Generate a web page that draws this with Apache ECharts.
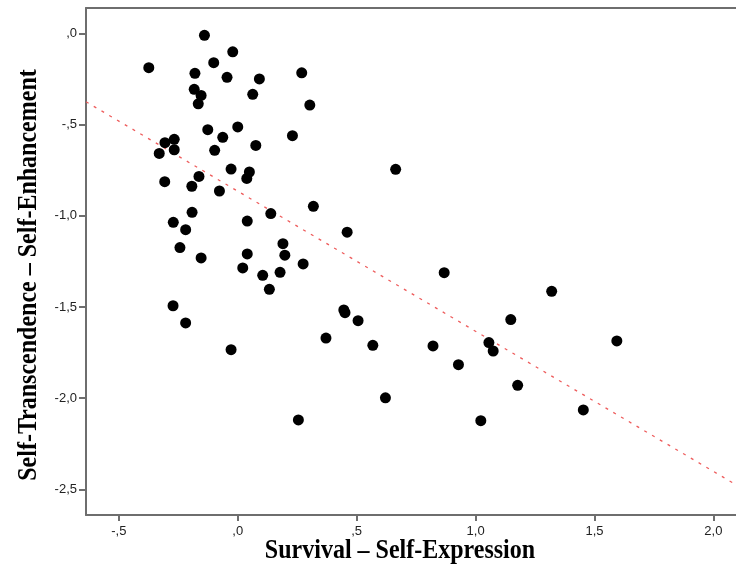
<!DOCTYPE html>
<html>
<head>
<meta charset="utf-8">
<script src="https://cdn.jsdelivr.net/npm/echarts@6/dist/echarts.min.js"></script>
<style>
html,body{margin:0;padding:0;background:#fff;}
#chart{width:736px;height:570px;}
</style>
</head>
<body>
<div id="chart"></div>
<script>
// Survival – Self-Expression (x) values
var survivalX = [
  -0.140, -0.021, -0.374, -0.101, -0.180, -0.045, 0.091, 0.269, -0.183, -0.154,
  0.063, -0.166, 0.303, -0.126, 0.000, -0.063, 0.230, -0.267, -0.306, -0.267,
  -0.330, -0.097, 0.076, 0.664, -0.028, 0.049, 0.038, -0.163, -0.307, -0.193,
  -0.077, -0.192, 0.139, 0.318, -0.271, -0.219, 0.040, 0.460, -0.243, 0.190,
  0.040, 0.198, -0.154, 0.021, 0.105, 0.178, 0.275, 0.133, -0.272, -0.219,
  -0.028, 0.446, 0.451, 0.506, 0.371, 0.568, 0.621, 0.255, 0.868, 1.320,
  1.148, 0.821, 1.056, 1.074, 1.594, 0.928, 1.177, 1.453, 1.022
];
// Self-Transcendence – Self-Enhancement (y) values
var transcendY = [
  -0.011, -0.101, -0.188, -0.161, -0.219, -0.241, -0.250, -0.216, -0.307, -0.340,
  -0.334, -0.386, -0.393, -0.528, -0.513, -0.570, -0.561, -0.581, -0.599, -0.638,
  -0.658, -0.641, -0.614, -0.745, -0.744, -0.760, -0.795, -0.784, -0.813, -0.838,
  -0.864, -0.981, -0.988, -0.948, -1.036, -1.076, -1.029, -1.090, -1.174, -1.153,
  -1.209, -1.216, -1.231, -1.286, -1.326, -1.310, -1.264, -1.403, -1.493, -1.587,
  -1.734, -1.516, -1.531, -1.575, -1.670, -1.710, -1.998, -2.119, -1.312, -1.414,
  -1.569, -1.713, -1.695, -1.741, -1.686, -1.816, -1.929, -2.064, -2.123
];
// Fit line endpoints
var fitX = [-0.638, 2.095];
var fitY = [-0.375, -2.474];
// Tick values and labels
var xTickValues = [-0.5, 0, 0.5, 1, 1.5, 2];
var xTickLabels = ['-,5', ',0', ',5', '1,0', '1,5', '2,0'];
var yTickValues = [0, -0.5, -1, -1.5, -2, -2.5];
var yTickLabels = [',0', '-,5', '-1,0', '-1,5', '-2,0', '-2,5'];
var xTitle = 'Survival – Self-Expression';
var yTitle = 'Self-Transcendence – Self-Enhancement';

var xMin = -0.638, xMax = 2.095;
var yMin = -2.64, yMax = 0.139;

var points = survivalX.map(function (x, i) { return [x, transcendY[i]]; });
var fitData = fitX.map(function (x, i) { return [x, fitY[i]]; });

function labelFor(values, labels) {
  return function (v) {
    for (var i = 0; i < values.length; i++) {
      if (Math.abs(values[i] - v) < 1e-9) return labels[i];
    }
    return '';
  };
}

var axisColor = '#6e6e6e';
var tickFont = {
  color: '#222',
  fontSize: 13,
  fontFamily: '"Liberation Sans Narrow", "Liberation Sans", Arial, sans-serif'
};
var titleFontStr = 'bold 24px "Liberation Serif", "Times New Roman", serif';

var chart = echarts.init(document.getElementById('chart'), null, {renderer: 'canvas'});
chart.setOption({
  animation: false,
  backgroundColor: '#fff',
  grid: {left: 86, top: 8, right: 0, bottom: 55, containLabel: false},
  graphic: [{
    type: 'text',
    x: 400, y: 551,
    scaleX: 1, scaleY: 1.15,
    style: {text: xTitle, font: titleFontStr, fill: '#000', align: 'center', verticalAlign: 'middle'}
  }, {
    type: 'text',
    x: 29, y: 275,
    rotation: Math.PI / 2,
    scaleX: 1, scaleY: 1.15,
    style: {text: yTitle, font: titleFontStr, fill: '#000', align: 'center', verticalAlign: 'middle'}
  }],
  xAxis: [{
    type: 'value',
    min: xMin, max: xMax,
    position: 'bottom',
    axisLine: {show: true, onZero: false, lineStyle: {color: axisColor, width: 2}},
    axisTick: {show: true, length: 6, lineStyle: {color: axisColor, width: 2}, customValues: xTickValues},
    axisLabel: Object.assign({margin: 10, customValues: xTickValues, formatter: labelFor(xTickValues, xTickLabels)}, tickFont),
    splitLine: {show: false}
  }, {
    type: 'value',
    min: xMin, max: xMax,
    position: 'top',
    axisLine: {show: true, onZero: false, lineStyle: {color: axisColor, width: 2}},
    axisTick: {show: false},
    axisLabel: {show: false},
    splitLine: {show: false}
  }],
  yAxis: [{
    type: 'value',
    min: yMin, max: yMax,
    axisLine: {show: true, onZero: false, lineStyle: {color: axisColor, width: 2}},
    axisTick: {show: true, length: 7, lineStyle: {color: axisColor, width: 2}, customValues: yTickValues},
    axisLabel: Object.assign({margin: 9, customValues: yTickValues, formatter: labelFor(yTickValues, yTickLabels)}, tickFont),
    splitLine: {show: false}
  }],
  series: [{
    type: 'line',
    data: fitData,
    xAxisIndex: 0,
    symbol: 'none',
    silent: true,
    lineStyle: {color: '#ee5c5c', width: 1.3, type: [3, 6]},
    z: 1
  }, {
    type: 'scatter',
    data: points,
    xAxisIndex: 0,
    symbol: 'circle',
    symbolSize: 11,
    itemStyle: {color: '#000', opacity: 1},
    z: 2
  }]
});
</script>
</body>
</html>
